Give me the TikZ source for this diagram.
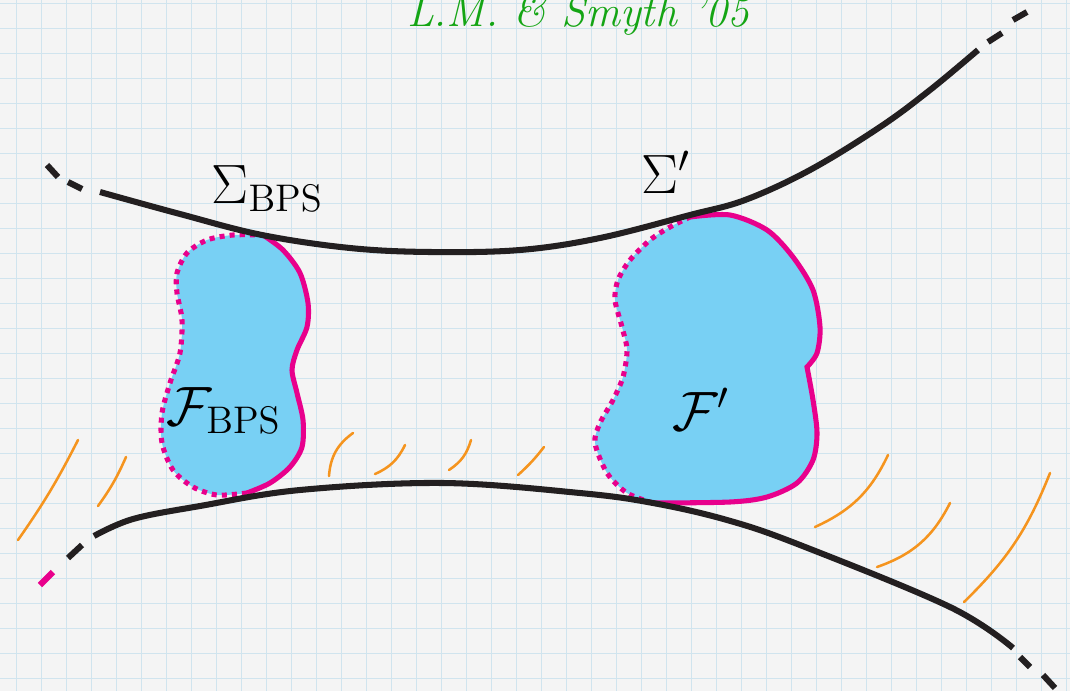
\documentclass[tikz,border=0pt]{standalone}
\usepackage{xcolor}
\usetikzlibrary{calc}
\definecolor{branecol}{RGB}{35,31,32}
\definecolor{fluxcol}{RGB}{120,208,244}
\definecolor{edgecol}{RGB}{232,0,140}
\definecolor{hatchcol}{RGB}{245,148,30}
\definecolor{creditcol}{RGB}{20,165,20}
\definecolor{papercol}{RGB}{244,244,244}
\definecolor{gridcol}{RGB}{208,228,238}
\tikzset{
  brane/.style={draw=branecol, line width=4.3pt},
  braneend/.style={draw=branecol, line width=4.3pt},
  fluxtube/.style={fill=fluxcol},
  solidedge/.style={draw=edgecol, line width=3.6pt},
  dotedge/.style={draw=edgecol, line width=3.6pt, dash pattern=on 3.6pt off 3.6pt},
  hatchline/.style={draw=hatchcol, line width=1.8pt, line cap=round},
  branelabel/.style={font=\huge, scale=1.9, inner sep=0pt, anchor=base west},
}

\begin{document}
\begin{tikzpicture}[x=0.025cm, y=-0.025cm,
  gridlines/.style={draw=gridcol, line width=0.6pt},
  creditlabel/.style={font=\itshape\fontsize{31}{34}\selectfont, text=creditcol, inner sep=0pt, anchor=base}
]
  % Paper
  \useasboundingbox (0,0) rectangle (1070,691);
  \clip (0,0) rectangle (1070,691);
  \fill[papercol] (0,0) rectangle (1070,691);
  \foreach \gx in {16.7,41.7,...,1070}
    \draw[gridlines] (\gx,0) -- (\gx,691);
  \foreach \gy in {3.3,28.3,...,691}
    \draw[gridlines] (0,\gy) -- (1070,\gy);

  % Credit
  \node[creditlabel] (credit) at (578,26) {L.M. \& Smyth '05};

  % Flux tube F_BPS
  \fill[fluxtube] plot[smooth] coordinates {(263,235) (283,250) (300,273) (308,303) (307,327) (297,350) (292,370) (297,393) (303,420) (302,447) (290,467) (270,483) (247,493)}
    -- plot[smooth] coordinates {(247,493) (217,495) (193,487) (173,470) (162,443) (162,413) (170,383) (180,353) (182,320) (177,293) (177,273) (187,253) (207,240) (233,235) (263,235)} -- cycle;
  \draw[solidedge] plot[smooth] coordinates {(263,235) (283,250) (300,273) (308,303) (307,327) (297,350) (292,370) (297,393) (303,420) (302,447) (290,467) (270,483) (247,493)};
  \draw[dotedge] plot[smooth] coordinates {(247,493) (217,495) (193,487) (173,470) (162,443) (162,413) (170,383) (180,353) (182,320) (177,293) (177,273) (187,253) (207,240) (233,235) (263,235)};

  % Flux tube F'
  \fill[fluxtube] plot[smooth] coordinates {(690,217) (730,215) (767,230) (793,257) (813,290) (820,327) (817,353) (807,367)}
    -- plot[smooth] coordinates {(807,367) (813,400) (817,433) (813,460) (797,483) (767,497) (730,502) (653,503)}
    -- plot[smooth] coordinates {(653,503) (627,493) (607,473) (595,443) (600,423) (613,400) (623,377) (627,350) (622,327) (615,300) (618,280) (630,260) (650,240) (670,227) (690,217)} -- cycle;
  \draw[solidedge] plot[smooth] coordinates {(690,217) (730,215) (767,230) (793,257) (813,290) (820,327) (817,353) (807,367)}
    -- plot[smooth] coordinates {(807,367) (813,400) (817,433) (813,460) (797,483) (767,497) (730,502) (653,503)};
  \draw[dotedge] plot[smooth] coordinates {(653,503) (627,493) (607,473) (595,443) (600,423) (613,400) (623,377) (627,350) (622,327) (615,300) (618,280) (630,260) (650,240) (670,227) (690,217)};

  % Upper brane
  \draw[brane] plot[smooth, tension=0.6] coordinates {(100,192) (180,214) (262,235) (350,248) (430,252) (520,250) (600,238) (690,215) (745,200) (810,170) (880,127) (930,90) (978,50)};
  \draw[braneend] (47,165) -- (58,177);
  \draw[braneend] (68,182) -- (82,189);
  \draw[braneend] (988,42) -- (1002,33);
  \draw[braneend] (1013,20) -- (1027,12);

  % Lower brane
  \draw[brane] plot[smooth, tension=0.6] coordinates {(94,536) (133,519) (200,506) (300,490) (443,483) (580,493) (653,503) (727,520) (800,545) (950,607) (1013,648)};
  \draw[braneend] (68,558) -- (82,545);
  \draw[solidedge, line width=4.3pt] (40,585) -- (53,572);
  \draw[braneend] (1020,657) -- (1030,667);
  \draw[braneend] (1043,675) -- (1055,688);

  % Hatching
  \draw[hatchline] (18,540) to[bend right=4] (78,440);
  \draw[hatchline] (98,506) to[bend right=6] (126,457);
  \draw[hatchline] (329,476) to[bend left=25] (353,433);
  \draw[hatchline] (375,474) to[bend right=20] (405,445);
  \draw[hatchline] (449,470) to[bend right=20] (471,440);
  \draw[hatchline] (518,475) to[bend right=5] (544,447);
  \draw[hatchline] (815,527) to[bend right=20] (888,455);
  \draw[hatchline] (877,567) to[bend right=22] (950,503);
  \draw[hatchline] (964,602) to[bend right=12] (1050,473);

  % Labels
  \node[branelabel] (sigbps) at (211,203) {$\Sigma_{\mathrm{BPS}}$};
  \node[branelabel] (sigp) at (641,193) {$\Sigma'$};
  \node[branelabel] (fbps) at (166,425) {$\mathcal{F}_{\mathrm{BPS}}$};
  \node[branelabel] (fp) at (672,430) {$\mathcal{F}'$};
\end{tikzpicture}
\end{document}
